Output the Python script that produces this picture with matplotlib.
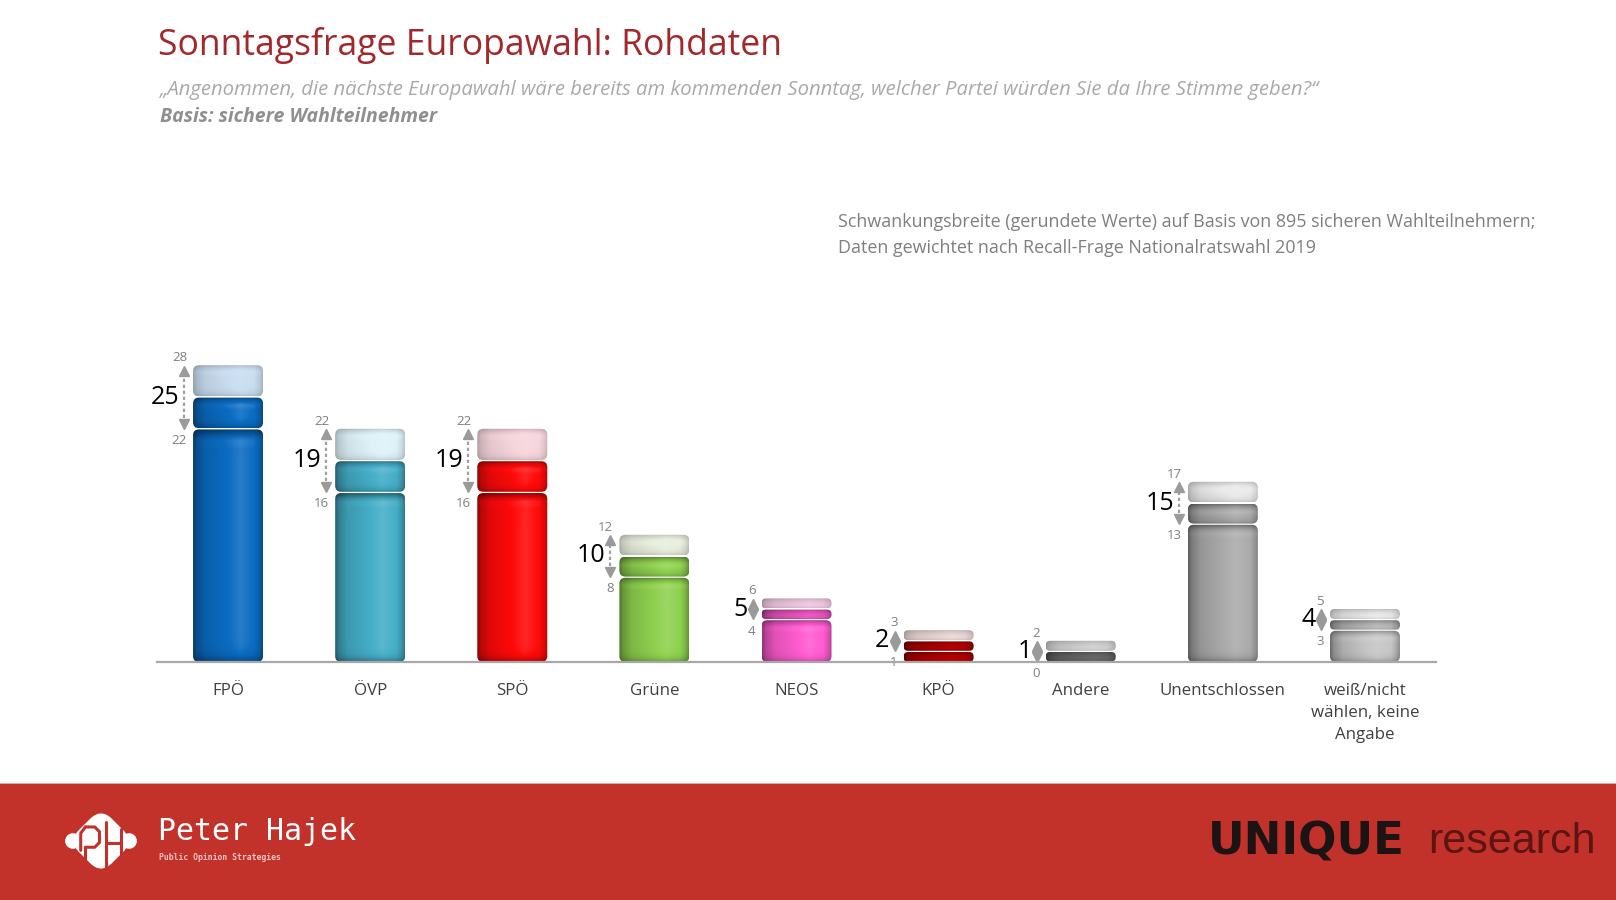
import numpy as np
import matplotlib
matplotlib.use("Agg")
import matplotlib.pyplot as plt
from matplotlib.patches import FancyBboxPatch, Rectangle, Circle
from matplotlib.colors import to_rgb
from matplotlib.transforms import Affine2D

# ---------------- data ----------------
categories = ["FPÖ", "ÖVP", "SPÖ", "Grüne", "NEOS", "KPÖ", "Andere",
              "Unentschlossen", "weiß/nicht\nwählen, keine\nAngabe"]
values = [25, 19, 19, 10, 5, 2, 1, 15, 4]
lower = [22, 16, 16, 8, 4, 1, 0, 13, 3]
upper = [28, 22, 22, 12, 6, 3, 2, 17, 5]
main_colors = ["#0b6cc2", "#45aec8", "#ff0a0a", "#8fd14f", "#ff5cd0",
               "#c00000", "#6e6e6e", "#ababab", "#c6c6c6"]
cap_colors = ["#cadef1", "#def3f9", "#f6d6dc", "#e9efdf", "#f7cfe9",
              "#f3dfdf", "#d8d8d8", "#eaeaea", "#f0f0f0"]

title = "Sonntagsfrage Europawahl: Rohdaten"
subtitle = ("„Angenommen, die nächste Europawahl wäre bereits am kommenden Sonntag, "
            "welcher Partei würden Sie da Ihre Stimme geben?“")
basis = "Basis: sichere Wahlteilnehmer"
note = ("Schwankungsbreite (gerundete Werte) auf Basis von 895 sicheren Wahlteilnehmern;\n"
        "Daten gewichtet nach Recall-Frage Nationalratswahl 2019")

# ---------------- figure ----------------
W, H = 1616, 900
fig = plt.figure(figsize=(W / 100, H / 100), dpi=100)
fig.patch.set_facecolor("white")
plt.rcParams["font.family"] = ["Open Sans", "DejaVu Sans"]


def fx(x):
    return x / W


def fy(y):
    return 1 - y / H


# axes placement (pixels)
ax_left, ax_right, ax_base, ax_top = 157, 1436, 662, 344
YMAX = 30
ax = fig.add_axes([fx(ax_left), fy(ax_base), (ax_right - ax_left) / W, (ax_base - ax_top) / H])
n = len(categories)
ax.set_xlim(-0.5, n - 0.5)
ax.set_ylim(0, YMAX)

px_per_x = (ax_right - ax_left) / n
px_per_y = (ax_base - ax_top) / YMAX
asp = px_per_x / px_per_y

bar_w = 70 / px_per_x
rad_px = 6
gap = 1.2 / px_per_y


def shaded(color, nx=90, ny=50, h_px=30, strength=1.0):
    c = np.array(to_rgb(color))
    x = np.linspace(0, 1, nx)
    prof = np.interp(x, [0, 0.05, 0.18, 0.45, 0.68, 0.88, 0.96, 1.0],
                     [0.55, 0.72, 0.88, 0.98, 1.06, 1.0, 0.85, 0.7])
    y = np.linspace(0, 1, ny)
    edge = max(3.5 / max(h_px, 6), 0.02)
    vprof = 1 - 0.25 * np.exp(-(y / edge)) - 0.35 * np.exp(-((1 - y) / edge))
    vprof += 0.07 * np.exp(-((1 - y - 2.2 * edge) / edge) ** 2)
    f = prof[None, :] * vprof[:, None]
    f = 1 + (f - 1) * strength
    img = np.empty((ny, nx, 3))
    for k in range(3):
        base = c[k]
        dark = base * np.minimum(f, 1)
        light = base + (1 - base) * np.clip(f - 1, 0, 1) * 2.0
        img[:, :, k] = np.where(f <= 1, dark, np.clip(light, 0, 1))
    return img


def segment(xc, y0, y1, color, z, strength=1.0):
    if y1 - y0 <= 0:
        return
    x0 = xc - bar_w / 2
    h_px = (y1 - y0) * px_per_y
    r_px = min(rad_px, h_px / 2.2)
    r = r_px / px_per_x
    patch = FancyBboxPatch((x0, y0), bar_w, y1 - y0,
                           boxstyle=f"round,pad=0,rounding_size={r}",
                           mutation_aspect=asp, facecolor="none",
                           edgecolor="none", transform=ax.transData, zorder=z)
    ax.add_patch(patch)
    im = ax.imshow(shaded(color, h_px=h_px, strength=strength),
                   extent=(x0, x0 + bar_w, y0, y1),
                   origin="lower", aspect="auto", zorder=z, interpolation="bilinear")
    im.set_clip_path(patch)


for i in range(n):
    lo, v, hi = lower[i], values[i], upper[i]
    segment(i, 0, lo - gap / 2, main_colors[i], 2)
    segment(i, lo + gap / 2, v - gap / 2, main_colors[i], 2)
    segment(i, v + gap / 2, hi, cap_colors[i], 2, strength=0.6)

    # dashed double arrow for the fluctuation range
    xa = i - bar_w / 2 - 9 / px_per_x
    d = 0.5
    ax.plot([xa, xa], [lo + d, hi - d], ls=(0, (1.5, 1.2)), color="#a0a0a0",
            lw=1.6, zorder=3, solid_capstyle="butt")
    ax.plot([xa], [hi - d], marker="^", ms=6.5, color="#9a9a9a", zorder=3)
    ax.plot([xa], [lo + d], marker="v", ms=6.5, color="#9a9a9a", zorder=3)

    # labels
    ax.annotate(str(v), (xa, v), xytext=(-5, 0), textcoords="offset pixels",
                ha="right", va="center", fontsize=18, color="black", zorder=4)
    ax.annotate(str(hi), (xa, hi), xytext=(3, 1), textcoords="offset pixels",
                ha="right", va="bottom", fontsize=9.5, color="#7f7f7f", zorder=4)
    ax.annotate(str(lo), (xa, lo), xytext=(3, -5), textcoords="offset pixels",
                ha="right", va="top", fontsize=9.5, color="#7f7f7f", zorder=4)

ax.set_xticks(range(n))
ax.set_xticklabels(categories, fontsize=12.2, color="#404040", linespacing=1.5)
ax.tick_params(axis="x", length=0, pad=15)
ax.set_yticks([])
for s in ["left", "right", "top"]:
    ax.spines[s].set_visible(False)
ax.spines["bottom"].set_color("#a8a8a8")
ax.spines["bottom"].set_linewidth(1.6)
ax.spines["bottom"].set_zorder(5)
ax.set_facecolor("none")

# ---------------- texts ----------------
fig.text(fx(158), fy(46), title, fontsize=25.6, color="#a3282b", va="center", ha="left")
fig.text(fx(160), fy(90), subtitle, fontsize=14.6, color="#a9a9a9", style="italic",
         va="center", ha="left")
fig.text(fx(160), fy(117), basis, fontsize=14, color="#8f8f8f", style="italic",
         weight="bold", va="center", ha="left")
fig.text(fx(838), fy(235), note, fontsize=12.9, color="#7f7f7f", va="center",
         ha="left", linespacing=1.6)

# ---------------- footer ----------------
fig.patches.append(Rectangle((0, 0), 1, fy(783), transform=fig.transFigure,
                             facecolor="#c3312b", edgecolor="none", zorder=-2))
fig.patches.append(Rectangle((0, fy(784)), 1, 1.5 / H, transform=fig.transFigure,
                             facecolor="#e6a6a2", edgecolor="none", zorder=-2))

# logo icon
lx = fig.add_axes([fx(62), fy(880), 78 / W, 78 / H])
lx.set_zorder(3)
lx.set_xlim(0, 1)
lx.set_ylim(0, 1)
lx.axis("off")
diamond = FancyBboxPatch((0.2, 0.2), 0.6, 0.6,
                         boxstyle="round,pad=0,rounding_size=0.2",
                         facecolor="white", edgecolor="none")
diamond.set_transform(Affine2D().rotate_deg_around(0.5, 0.5, 45) + lx.transData)
lx.add_patch(diamond)
lx.add_patch(Circle((0.14, 0.5), 0.1, facecolor="white", edgecolor="none"))
lx.add_patch(Circle((0.86, 0.5), 0.1, facecolor="white", edgecolor="none"))
red = "#c3312b"
# "P"
lx.plot([0.24, 0.24, 0.3], [0.38, 0.6, 0.68], color=red, lw=2.2, solid_capstyle="round")
lx.plot([0.3, 0.42, 0.48, 0.48, 0.42, 0.3], [0.68, 0.68, 0.62, 0.48, 0.42, 0.42],
        color=red, lw=2.2, solid_capstyle="round")
lx.plot([0.3, 0.3], [0.42, 0.25], color=red, lw=2.2, solid_capstyle="round")
# "H"
lx.plot([0.56, 0.56], [0.16, 0.74], color=red, lw=2.2, solid_capstyle="round")
lx.plot([0.56, 0.76], [0.48, 0.48], color=red, lw=2.2, solid_capstyle="round")
lx.plot([0.76, 0.76], [0.32, 0.66], color=red, lw=2.2, solid_capstyle="round")

fig.text(fx(158), fy(831), "Peter Hajek", fontsize=21.5, color="white",
         family=["DejaVu Sans Mono"], va="center", ha="left")
fig.text(fx(159), fy(858), "Public Opinion Strategies", fontsize=5.9, color="#f1c6c3",
         weight="bold", family=["DejaVu Sans Mono"], va="center", ha="left")

fig.text(fx(1208), fy(842), "UNIQUE", fontsize=32.5, color="#1c1414", weight="bold",
         family=["DejaVu Sans"], va="center", ha="left")
fig.text(fx(1428), fy(842), "research", fontsize=31, color="#5b1512",
         family=["Liberation Sans", "DejaVu Sans"], va="center", ha="left")

fig.savefig("out.png", dpi=100)
